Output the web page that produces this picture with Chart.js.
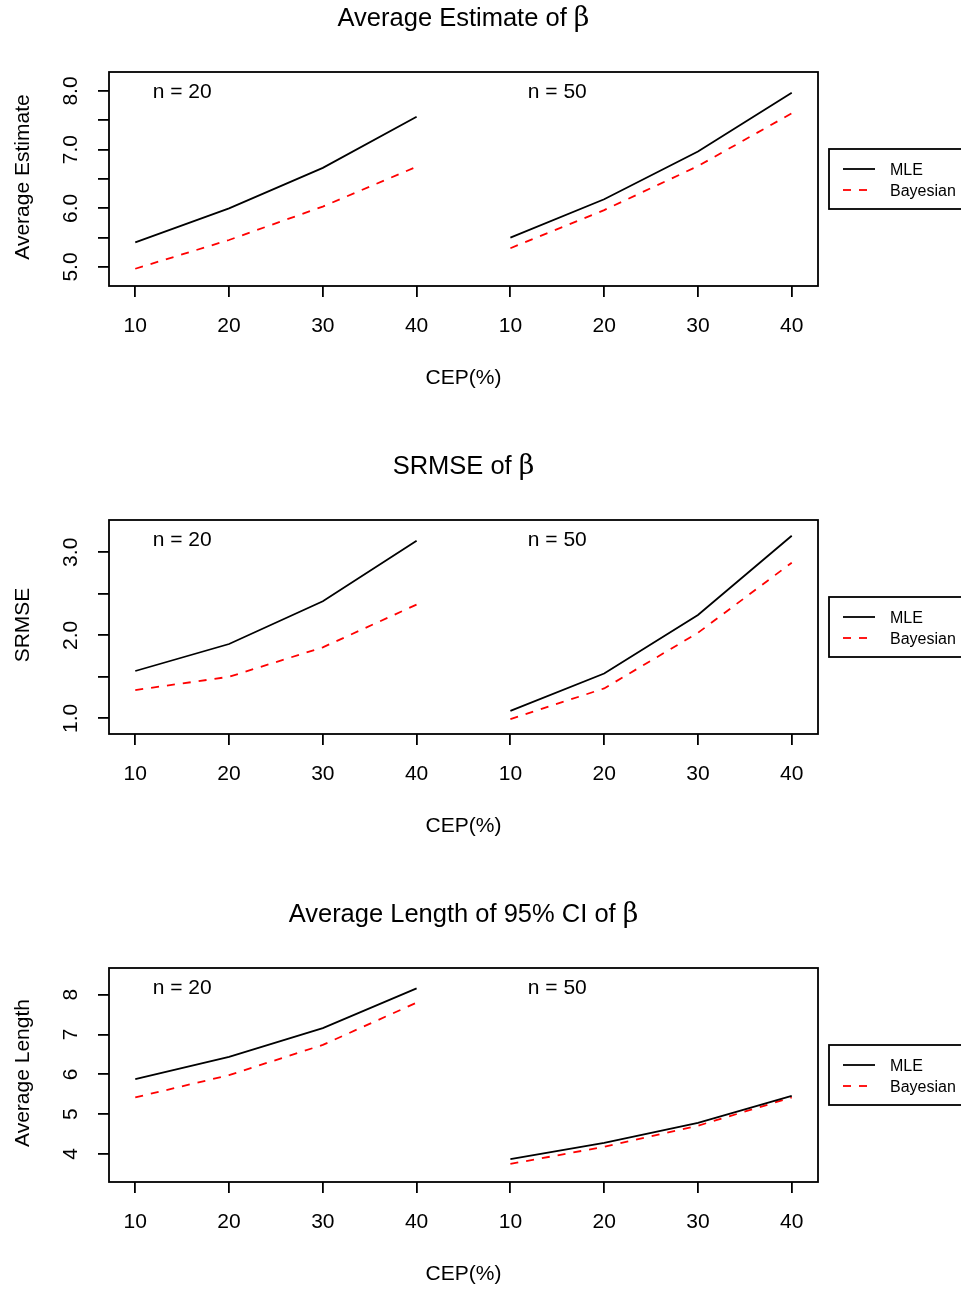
<!DOCTYPE html>
<html>
<head>
<meta charset="utf-8">
<script src="https://cdn.jsdelivr.net/npm/chart.js@4/dist/chart.umd.min.js"></script>
<style>
html,body{margin:0;padding:0;background:#fff;overflow:hidden;}
#wrap{position:relative;width:961px;height:1289px;overflow:hidden;background:#fff;}
canvas{position:absolute;left:0;}
</style>
</head>
<body>
<div id="wrap">
<canvas id="c0" width="961" height="448" style="top:0px"></canvas>
<canvas id="c1" width="961" height="448" style="top:448px"></canvas>
<canvas id="c2" width="961" height="448" style="top:896px"></canvas>
</div>
<script>
// ---- data ----
const cepLabels = ['10', '20', '30', '40'];
const groupLabels = ['n = 20', 'n = 50'];
const seriesNames = ['MLE', 'Bayesian'];

// Panel 1: Average Estimate of beta
const estMLE20   = [5.42, 6.00, 6.69, 7.56];
const estBayes20 = [4.97, 5.46, 6.03, 6.71];
const estMLE50   = [5.50, 6.155, 6.97, 7.97];
const estBayes50 = [5.32, 5.97, 6.72, 7.62];
const estTicks   = [5.0, 5.5, 6.0, 6.5, 7.0, 7.5, 8.0];

// Panel 2: SRMSE of beta
const srmMLE20   = [1.57, 1.895, 2.41, 3.14];
const srmBayes20 = [1.34, 1.50, 1.855, 2.37];
const srmMLE50   = [1.09, 1.54, 2.245, 3.20];
const srmBayes50 = [0.99, 1.36, 2.03, 2.875];
const srmTicks   = [1.0, 1.5, 2.0, 2.5, 3.0];

// Panel 3: Average Length of 95% CI of beta
const lenMLE20   = [5.88, 6.44, 7.16, 8.16];
const lenBayes20 = [5.42, 5.98, 6.74, 7.80];
const lenMLE50   = [3.87, 4.28, 4.78, 5.46];
const lenBayes50 = [3.75, 4.18, 4.71, 5.42];
const lenTicks   = [4, 5, 6, 7, 8];

const panels = [
  {id:'c0', title:'Average Estimate of ', ylab:'Average Estimate',
   mle:[estMLE20, estMLE50], bayes:[estBayes20, estBayes50],
   ticks:estTicks, dec:1, ymin:4.676, ymax:8.324},
  {id:'c1', title:'SRMSE of ', ylab:'SRMSE',
   mle:[srmMLE20, srmMLE50], bayes:[srmBayes20, srmBayes50],
   ticks:srmTicks, dec:1, ymin:0.811, ymax:3.389},
  {id:'c2', title:'Average Length of 95% CI of ', ylab:'Average Length',
   mle:[lenMLE20, lenMLE50], bayes:[lenBayes20, lenBayes50],
   ticks:lenTicks, dec:0, ymin:3.296, ymax:8.671}
];

const FONT = '"Liberation Sans", Arial, Helvetica, sans-serif';
const LW = 1.8;
const AX = '21px ' + FONT;

function pts(vals, g){ return vals.map((v,i)=>({x: g*cepLabels.length + i + 1, y: v})); }

const decorPlugin = {
  id:'decor',
  afterDraw(chart, args, opts){
    const p = opts.panel;
    const ctx = chart.ctx;
    const a = chart.chartArea;
    const xs = chart.scales.x, ys = chart.scales.y;
    ctx.save();
    ctx.fillStyle = '#000';
    ctx.strokeStyle = '#000';
    // box
    ctx.lineWidth = LW;
    ctx.strokeRect(a.left, a.top, a.right - a.left, a.bottom - a.top);
    // title
    ctx.textBaseline = 'alphabetic';
    const t1 = p.title, t2 = '\u03B2';
    const TF = '25.5px ' + FONT, BF = '27px "DejaVu Serif", "Liberation Serif", serif';
    ctx.font = TF;
    const w1 = ctx.measureText(t1).width;
    ctx.font = BF;
    const w2 = ctx.measureText(t2).width;
    const cx = (a.left + a.right)/2;
    const sx = cx - (w1 + w2)/2;
    ctx.textAlign = 'left';
    ctx.font = TF;
    ctx.fillText(t1, sx, 26);
    ctx.font = BF;
    ctx.fillText(t2, sx + w1, 26);
    // x tick labels
    ctx.font = AX;
    ctx.textAlign = 'center';
    xs.ticks.forEach((t, i) => {
      const px = xs.getPixelForValue(t.value);
      ctx.fillText(cepLabels[i % cepLabels.length], px, a.bottom + 46);
    });
    // x title
    ctx.fillText('CEP(%)', cx, a.bottom + 98);
    // y tick labels (rotated, parallel to axis)
    ys.ticks.forEach(t => {
      const v = t.value;
      if (Math.abs(v - Math.round(v)) > 1e-9) return;
      const py = ys.getPixelForValue(v);
      ctx.save();
      ctx.translate(a.left - 32, py);
      ctx.rotate(-Math.PI/2);
      ctx.textAlign = 'center';
      ctx.fillText(v.toFixed(p.dec), 0, 0);
      ctx.restore();
    });
    // y title
    ctx.save();
    ctx.translate(29, (a.top + a.bottom)/2 - 2);
    ctx.rotate(-Math.PI/2);
    ctx.textAlign = 'center';
    ctx.fillText(p.ylab, 0, 0);
    ctx.restore();
    // group labels
    ctx.textAlign = 'center';
    groupLabels.forEach((g, i) => {
      const px = xs.getPixelForValue(i*cepLabels.length + 1.5);
      ctx.fillText(g, px, a.top + 25.5);
    });
    // legend
    ctx.lineWidth = LW;
    ctx.strokeRect(829, 149, 200, 60);
    ctx.beginPath();
    ctx.strokeStyle = '#000';
    ctx.moveTo(843, 169); ctx.lineTo(875, 169); ctx.stroke();
    ctx.beginPath();
    ctx.strokeStyle = '#ff0000';
    ctx.setLineDash([8, 8]);
    ctx.moveTo(843, 190); ctx.lineTo(875, 190); ctx.stroke();
    ctx.setLineDash([]);
    ctx.font = '16px ' + FONT;
    ctx.textAlign = 'left';
    ctx.fillStyle = '#000';
    ctx.fillText(seriesNames[0], 890, 175);
    ctx.fillText(seriesNames[1], 890, 196);
    ctx.restore();
  }
};

panels.forEach(p => {
  const datasets = [];
  [0,1].forEach(g => {
    datasets.push({label: seriesNames[0] + ' ' + groupLabels[g], data: pts(p.mle[g], g),
      borderColor:'#000000', borderWidth:LW, pointRadius:0, fill:false, tension:0});
    datasets.push({label: seriesNames[1] + ' ' + groupLabels[g], data: pts(p.bayes[g], g),
      borderColor:'#ff0000', borderWidth:LW, borderDash:[8,8], pointRadius:0, fill:false, tension:0});
  });
  new Chart(document.getElementById(p.id), {
    type:'line',
    data:{datasets},
    plugins:[decorPlugin],
    options:{
      responsive:false,
      animation:false,
      devicePixelRatio:1,
      layout:{padding:{top:72, left:0, right:143, bottom:0}},
      plugins:{legend:{display:false}, title:{display:false}, tooltip:{enabled:false}, decor:{panel:p}},
      scales:{
        x:{type:'linear', min:0.72, max:8.28,
           afterBuildTicks: s => { s.ticks = [1,2,3,4,5,6,7,8].map(v=>({value:v})); },
           afterFit: s => { s.height = 162; },
           ticks:{display:false},
           border:{display:false},
           grid:{display:true, drawOnChartArea:false, drawTicks:true, tickLength:11, color:'#000', lineWidth:LW}},
        y:{type:'linear', min:p.ymin, max:p.ymax,
           afterBuildTicks: s => { s.ticks = p.ticks.map(v=>({value:v})); },
           afterFit: s => { s.width = 109; },
           ticks:{display:false},
           border:{display:false},
           grid:{display:true, drawOnChartArea:false, drawTicks:true, tickLength:11, color:'#000', lineWidth:LW}}
      }
    }
  });
});
</script>
</body>
</html>
